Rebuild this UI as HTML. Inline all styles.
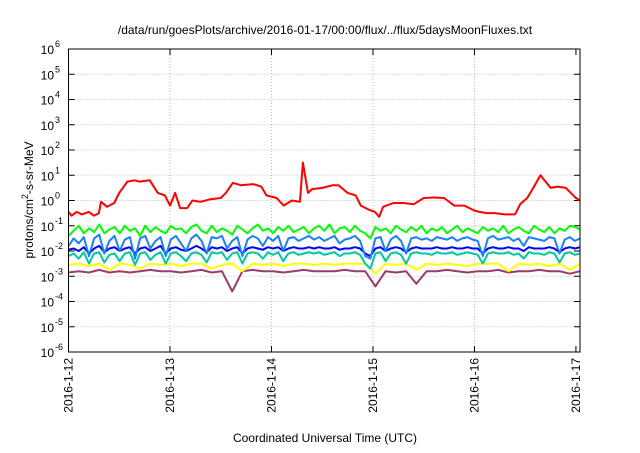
<!DOCTYPE html>
<html><head><meta charset="utf-8"><style>
body{margin:0;background:#fff}
svg{font-family:"Liberation Sans",sans-serif}
</style></head><body>
<svg id="c" width="640" height="448" xmlns="http://www.w3.org/2000/svg"></svg>
<script>
const dateLabels=["2016-1-12","2016-1-13","2016-1-14","2016-1-15","2016-1-16","2016-1-17"];
const decades=[-6,-5,-4,-3,-2,-1,0,1,2,3,4,5,6];
const redDays=[0,0.03,0.08,0.13,0.2,0.25,0.3,0.32,0.38,0.45,0.5,0.58,0.65,0.7,0.8,0.88,0.95,1.0,1.05,1.1,1.17,1.22,1.3,1.4,1.5,1.55,1.62,1.7,1.82,1.9,1.95,2.05,2.12,2.2,2.28,2.31,2.36,2.4,2.5,2.6,2.66,2.75,2.83,2.88,2.95,3.02,3.06,3.1,3.2,3.3,3.4,3.5,3.6,3.7,3.8,3.9,4.0,4.05,4.12,4.2,4.3,4.4,4.45,4.52,4.58,4.65,4.75,4.82,4.9,5.0,5.04];
const redVals=[-0.45,-0.6,-0.45,-0.55,-0.45,-0.6,-0.5,-0.05,-0.25,-0.1,0.3,0.75,0.8,0.75,0.8,0.3,0.2,-0.2,0.3,-0.3,-0.3,0.0,-0.05,0.05,0.1,0.3,0.7,0.6,0.65,0.55,0.2,0.1,-0.2,0.0,-0.05,1.5,0.3,0.45,0.5,0.6,0.6,0.3,0.2,-0.2,-0.35,-0.45,-0.65,-0.25,-0.1,-0.1,-0.15,0.1,0.12,0.1,-0.2,-0.2,-0.4,-0.45,-0.5,-0.5,-0.55,-0.55,-0.15,0.1,0.5,1.0,0.5,0.55,0.5,0.1,0.0];
const green=[-1.4,-1.2,-1.0,-1.3,-1.1,-1.25,-0.95,-1.3,-1.15,-1.05,-1.3,-1.0,-1.2,-1.1,-1.4,-1.0,-1.25,-1.05,-1.2,-1.3,-1.0,-1.15,-1.1,-1.3,-1.05,-0.95,-1.2,-1.3,-1.0,-1.25,-1.1,-1.2,-1.35,-1.0,-1.15,-1.3,-1.1,-0.95,-1.2,-1.1,-1.3,-1.05,-1.2,-1.0,-1.25,-1.15,-1.05,-1.3,-1.1,-1.0,-1.2,-0.95,-1.3,-1.1,-1.05,-1.25,-1.0,-1.2,-1.3,-1.5,-1.05,-1.2,-1.1,-1.3,-1.0,-1.15,-1.25,-1.05,-1.2,-1.0,-1.3,-1.1,-1.2,-1.05,-1.3,-1.15,-1.0,-1.25,-1.1,-1.2,-1.3,-1.05,-1.2,-1.1,-1.25,-1.0,-1.3,-1.15,-1.05,-1.2,-1.3,-1.0,-1.15,-1.25,-1.05,-1.3,-1.1,-1.2,-1.0,-1.05,-1.15];
const lightBlue=[-1.8,-1.5,-1.7,-1.45,-2.2,-1.5,-1.35,-2.1,-1.6,-1.4,-2.0,-1.55,-1.45,-2.3,-1.5,-1.4,-1.9,-1.6,-1.45,-2.2,-1.55,-1.4,-1.7,-2.0,-1.5,-1.35,-1.6,-2.1,-1.45,-1.5,-1.4,-1.9,-1.6,-1.45,-2.2,-1.55,-1.4,-1.5,-1.8,-1.45,-1.6,-1.4,-2.0,-1.5,-1.45,-1.6,-1.5,-1.4,-1.55,-1.45,-1.6,-1.5,-1.4,-1.7,-1.55,-1.5,-1.4,-1.6,-2.2,-2.3,-1.5,-1.45,-2.0,-1.55,-1.4,-1.6,-2.1,-1.5,-1.45,-1.55,-1.5,-1.6,-1.45,-1.5,-1.55,-1.45,-1.6,-1.5,-1.45,-1.55,-1.6,-2.2,-1.5,-1.4,-1.55,-1.5,-1.45,-1.6,-1.5,-1.8,-1.45,-1.5,-1.55,-1.6,-1.45,-1.5,-2.1,-1.55,-1.45,-1.6,-1.5];
const blue=[-1.95,-1.9,-2.0,-1.85,-2.1,-1.9,-1.8,-2.05,-1.9,-1.85,-2.0,-1.9,-1.85,-2.1,-1.9,-1.85,-2.0,-1.9,-1.8,-2.1,-1.9,-1.85,-1.95,-2.0,-1.9,-1.8,-1.9,-2.05,-1.85,-1.9,-1.85,-2.0,-1.9,-1.85,-2.1,-1.9,-1.85,-1.9,-1.95,-1.85,-1.9,-1.85,-2.0,-1.9,-1.85,-1.9,-1.9,-1.85,-1.9,-1.85,-1.9,-1.9,-1.85,-1.95,-1.9,-1.9,-1.85,-1.9,-2.1,-2.2,-1.9,-1.85,-2.0,-1.9,-1.85,-1.9,-2.05,-1.9,-1.85,-1.9,-1.9,-1.9,-1.85,-1.9,-1.9,-1.85,-1.9,-1.9,-1.85,-1.9,-1.9,-2.1,-1.9,-1.85,-1.9,-1.9,-1.85,-1.9,-1.9,-2.0,-1.85,-1.9,-1.9,-1.9,-1.85,-1.9,-2.05,-1.9,-1.85,-1.9,-1.85];
const teal=[-2.2,-2.1,-2.3,-2.05,-2.5,-2.1,-2.05,-2.45,-2.15,-2.1,-2.4,-2.1,-2.05,-2.55,-2.1,-2.05,-2.35,-2.15,-2.05,-2.5,-2.1,-2.05,-2.2,-2.4,-2.1,-2.05,-2.15,-2.45,-2.05,-2.1,-2.05,-2.35,-2.1,-2.05,-2.5,-2.1,-2.05,-2.1,-2.3,-2.05,-2.15,-2.05,-2.4,-2.1,-2.05,-2.15,-2.1,-2.05,-2.1,-2.05,-2.15,-2.1,-2.05,-2.2,-2.1,-2.1,-2.05,-2.15,-2.5,-2.7,-2.1,-2.05,-2.4,-2.1,-2.05,-2.15,-2.5,-2.1,-2.05,-2.1,-2.1,-2.15,-2.05,-2.1,-2.1,-2.05,-2.15,-2.1,-2.05,-2.1,-2.15,-2.5,-2.1,-2.05,-2.1,-2.1,-2.05,-2.15,-2.1,-2.3,-2.05,-2.1,-2.1,-2.15,-2.05,-2.1,-2.45,-2.1,-2.05,-2.15,-2.1];
const yellow=[-2.55,-2.5,-2.6,-2.5,-2.75,-2.5,-2.55,-2.7,-2.5,-2.55,-2.5,-2.6,-2.5,-2.5,-2.7,-2.55,-2.5,-2.8,-2.5,-2.55,-2.5,-2.6,-2.5,-2.5,-2.55,-2.5,-2.55,-2.5,-2.5,-2.5,-2.9,-2.5,-2.55,-2.5,-2.75,-2.5,-2.55,-2.5,-2.55,-2.6,-2.5,-2.5,-2.5,-2.8,-2.5,-2.55,-2.5,-2.6,-2.5,-2.75,-2.5];
const purple=[-2.85,-2.8,-2.85,-2.75,-2.85,-2.8,-2.85,-2.8,-2.75,-2.8,-2.8,-2.85,-2.8,-2.75,-2.85,-2.8,-3.6,-2.8,-2.75,-2.8,-2.8,-2.85,-2.8,-2.75,-2.8,-2.8,-2.8,-2.75,-2.8,-2.8,-3.4,-2.8,-2.85,-2.8,-3.3,-2.8,-2.8,-2.75,-2.8,-2.85,-2.8,-2.8,-2.75,-2.85,-2.8,-2.8,-2.75,-2.8,-2.8,-2.9,-2.8];

const L=68.5,R=580,T=49,B=352,DAYS=5.04;
const xs=d=>L+d*(R-L)/DAYS;
const ys=v=>B-(v+6)*(B-T)/12;
const svg=document.getElementById('c');
const NS='http://www.w3.org/2000/svg';
function mk(tag,attrs,parent){const e=document.createElementNS(NS,tag);for(const k in attrs)e.setAttribute(k,attrs[k]);(parent||svg).appendChild(e);return e;}

let e=mk('text',{x:325,y:34,'text-anchor':'middle','font-size':12});
e.textContent='/data/run/goesPlots/archive/2016-01-17/00:00/flux/../flux/5daysMoonFluxes.txt';



decades.forEach(d=>{
  const y=ys(d);
  if(d>-6&&d<6){const g=mk('line',{x1:L,x2:R,y1:y,y2:y,stroke:'#bbb','stroke-dasharray':'1,2','stroke-width':1});
  
  }
  mk('line',{x1:L,x2:L+6,y1:y,y2:y,stroke:'#000'});
  mk('line',{x1:R,x2:R-6,y1:y,y2:y,stroke:'#000'});
  const t=mk('text',{x:54,y:y+5,'text-anchor':'end','font-size':12});
  t.textContent='10';
  
  
  const s=mk('text',{x:55,y:y-2,'font-size':9});
  s.textContent=String(d);
  
  
});
dateLabels.forEach((lab,i)=>{
  const x=xs(i);
  if(i>0&&i<5){const g=mk('line',{x1:x,x2:x,y1:T,y2:B,stroke:'#bbb','stroke-dasharray':'1,2'});
  
  }
  mk('line',{x1:x,x2:x,y1:B,y2:B-6,stroke:'#000'});
  mk('line',{x1:x,x2:x,y1:T,y2:T+6,stroke:'#000'});
  const t=mk('text',{x:0,y:0,'text-anchor':'end','font-size':12,transform:`translate(${x+4},358) rotate(-90)`});
  t.textContent=lab;
  
  
});

function line(vals,color,name,days){
  days=days||vals.map((_,i)=>i*DAYS/(vals.length-1));
  const p=mk('polyline',{points:vals.map((v,i)=>xs(days[i]).toFixed(1)+','+ys(v).toFixed(1)).join(' '),fill:'none',stroke:color,'stroke-width':2,'stroke-linejoin':'round'});
  
  
}
line(purple,'#9a3b6c','series-purple');
line(yellow,'#ffff00','series-yellow');
line(teal,'#00c8a0','series-teal');
line(blue,'#0000ff','series-blue');
line(lightBlue,'#1a80ff','series-light-blue');
line(green,'#00ff00','series-green');
line(redVals,'#ff0000','series-red',redDays);

const f=mk('rect',{x:L,y:T,width:R-L,height:B-T,fill:'none',stroke:'#000','stroke-width':1});



const yt=mk('text',{x:0,y:0,'text-anchor':'middle','font-size':12,transform:'translate(33,200) rotate(-90)'});
yt.innerHTML='protons/cm<tspan dy="-5" font-size="9">2</tspan><tspan dy="5">-s-sr-MeV</tspan>';


const xt=mk('text',{x:325,y:442,'text-anchor':'middle','font-size':12});
xt.textContent='Coordinated Universal Time (UTC)';


</script>
</body></html>
